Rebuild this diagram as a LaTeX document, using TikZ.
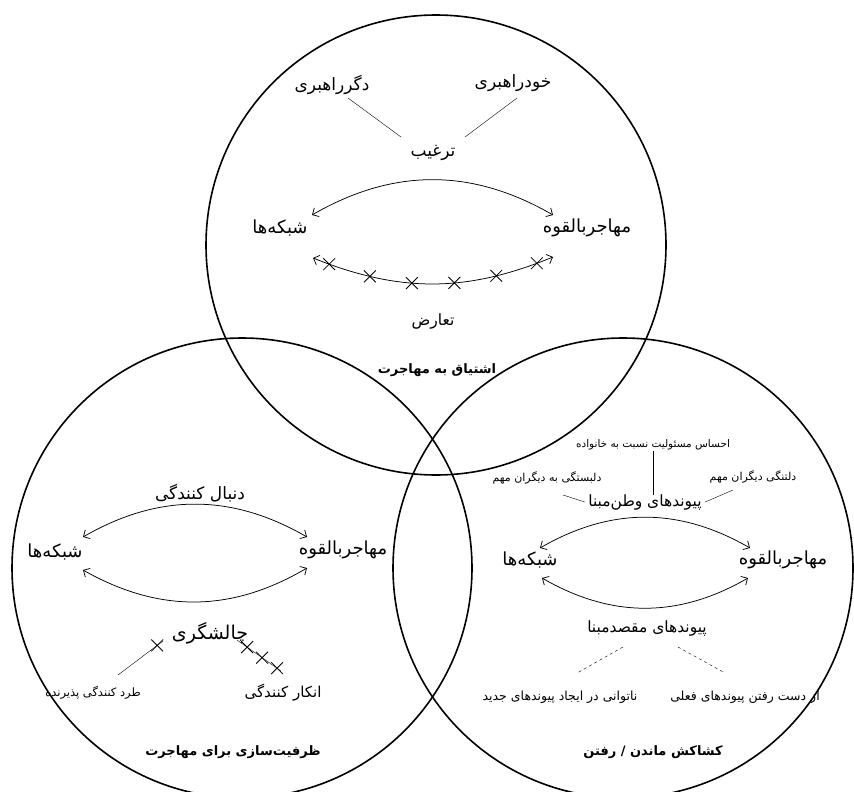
\documentclass[tikz,border=0pt]{standalone}
\usepackage{fontspec}
\usetikzlibrary{arrows.meta,decorations.markings,shapes.misc}
\newfontfamily\fa[Script=Arabic]{DejaVu Sans}
\TeXXeTstate=1
\newcommand{\rl}[1]{\beginR #1\endR}

\tikzset{
  ring/.style={line width=1.6pt},
  twoway/.style={<->,line width=0.75pt},
  lbl/.style={font=\fa\fontsize{18}{20}\selectfont},
  sublbl/.style={font=\fa\fontsize{#1}{#1}\selectfont},
  sublbl/.default=17,
  note/.style={font=\fa\fontsize{#1}{#1}\selectfont},
  note/.default=10.5,
  heading/.style={font=\fa\bfseries\fontsize{13}{15}\selectfont},
  xmark/.style={draw,cross out,minimum size=11pt,inner sep=0pt,line width=0.8pt},
  crossed/.style={postaction={decorate,decoration={markings,
    mark=between positions #1 with {\node[xmark]{};}}}}
}

\begin{document}
\begin{tikzpicture}[x=1pt,y=-1pt,>={Straight Barb[length=5pt,width=10pt]}]
  \path[use as bounding box,fill=white] (0,0) rectangle (854,792);

  % the three circles
  \draw[ring] (436,245) circle[radius=230];
  \draw[ring] (242,568) circle[radius=230];
  \draw[ring] (623,568) circle[radius=230];

  % top: desire
  \node[sublbl] (other) at (332,85)  {\rl{دگرراهبری}};
  \node[sublbl] (self)  at (513,83)  {\rl{خودراهبری}};
  \node[sublbl] (lure)  at (433,153) {\rl{ترغیب}};
  \node[lbl]    (net1)  at (280,228) {\rl{شبکه‌ها}};
  \node[lbl]    (mig1)  at (587,228) {\rl{مهاجربالقوه}};
  \node[sublbl=15.5] (clash) at (433,322) {\rl{تعارض}};
  \node[heading] (desire) at (437,370) {\rl{اشتیاق به مهاجرت}};

  \draw ([shift={(16,13)}]other.center) -- ([shift={(-32,-16)}]lure.center);
  \draw ([shift={(4,15)}]self.center) -- ([shift={(32,-16)}]lure.center);
  \draw[twoway] ([shift={(32,-13)}]net1.center) to[bend left=30] ([shift={(-34,-13)}]mig1.center);
  \draw[twoway,crossed=0.07 and 0.95 step 0.172]
    ([shift={(33,30)}]net1.center) to[bend right=22] ([shift={(-34,29)}]mig1.center);

  % left: capacity
  \node[sublbl] (follow) at (200,493) {\rl{دنبال کنندگی}};
  \node[lbl]    (net2)   at (55,552)  {\rl{شبکه‌ها}};
  \node[lbl]    (mig2)   at (343,550) {\rl{مهاجربالقوه}};
  \node[sublbl=19] (defy) at (210,633) {\rl{چالشگری}};
  \node[sublbl=11.5] (expel) at (93,693) {\rl{طرد کنندگی پذیرنده}};
  \node[sublbl=15] (deny)  at (283,693) {\rl{انکار کنندگی}};
  \node[heading] (build) at (233,752) {\rl{ظرفیت‌سازی برای مهاجرت}};

  \draw[twoway] ([shift={(28,-15)}]net2.center) to[bend left=30] ([shift={(-36,-13)}]mig2.center);
  \draw[twoway] ([shift={(28,18)}]net2.center) to[bend right=30] ([shift={(-36,18)}]mig2.center);
  \draw[crossed=0.13 and 0.2 step 0.5]
    ([shift={(-47,8)}]defy.center) -- ([shift={(25,-18)}]expel.center);
  \draw[crossed=0.23 and 0.95 step 0.34]
    ([shift={(27,7)}]defy.center) -- ([shift={(-2,-22)}]deny.center);

  % right: stay or go
  \node[note]   (duty)   at (653,445) {\rl{احساس مسئولیت نسبت به خانواده}};
  \node[note=11] (attach) at (547,478) {\rl{دلبستگی به دیگران مهم}};
  \node[note=11] (miss)   at (753,477) {\rl{دلتنگی دیگران مهم}};
  \node[sublbl=15.5] (home) at (645,502) {\rl{پیوندهای وطن‌مبنا}};
  \node[lbl]    (net3)   at (530,560) {\rl{شبکه‌ها}};
  \node[lbl]    (mig3)   at (783,560) {\rl{مهاجربالقوه}};
  \node[sublbl=15.5] (dest) at (647,628) {\rl{پیوندهای مقصدمبنا}};
  \node[note=12.5] (unable) at (560,697) {\rl{ناتوانی در ایجاد پیوندهای جدید}};
  \node[note=12.5] (lose)   at (745,697) {\rl{از دست رفتن پیوندهای فعلی}};
  \node[heading] (pull)  at (653,752) {\rl{کشاکش ماندن / رفتن}};

  \draw ([yshift=3]duty.south) -- ([yshift=-4]duty.south |- home.north);
  \draw ([shift={(16,17)}]attach.center) -- (home.west);
  \draw ([shift={(-20,13)}]miss.center) -- (home.east);
  \draw[twoway] ([shift={(10,-12)}]net3.center) to[bend left=30] ([shift={(-33,-12)}]mig3.center);
  \draw[twoway] ([shift={(12,18)}]net3.center) to[bend right=30] ([shift={(-35,18)}]mig3.center);
  \draw[dashed] ([shift={(-24,19)}]dest.center) -- ([shift={(17,-24)}]unable.center);
  \draw[dashed] ([shift={(31,19)}]dest.center) -- ([shift={(-20,-24)}]lose.center);
\end{tikzpicture}
\end{document}
